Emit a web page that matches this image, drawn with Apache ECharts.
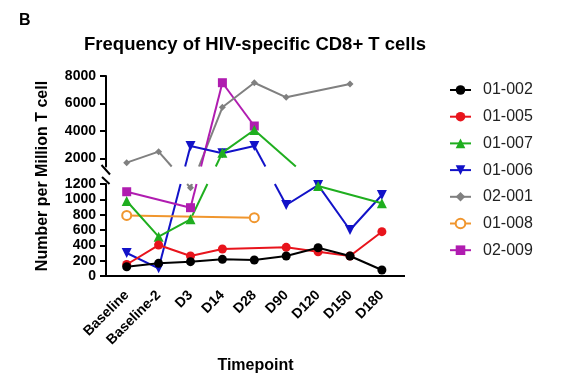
<!DOCTYPE html>
<html><head><meta charset="utf-8">
<script src="https://cdn.jsdelivr.net/npm/echarts@6/dist/echarts.min.js"></script>
<style>html,body{margin:0;padding:0;background:#fff}#c{width:562px;height:384px}</style>
</head><body><div id="c"></div>
<script>
// ---- data ----
const categories = ['Baseline','Baseline-2','D3','D14','D28','D90','D120','D150','D180'];
const s01_002 = [121,165,187,217,209,261,369,261,78];
const s01_005 = [150,404,261,352,null,374,317,261,578];
const s01_007 = [978,513,739,2408,4063,null,1173,null,948];
const s01_006 = [300,100,2897,2364,2897,926,1186,600,1056];
const s02_001 = [1679,2481,1150,5717,7510,6446,null,7415,null];
const s01_008 = [790,null,null,null,760,null,null,null,null];
const s02_009 = [1099,null,891,7510,4354,null,null,null,null];
const lowerTicks = [0,200,400,600,800,1000,1200];
const upperTicks = [2000,4000,6000,8000];
const lowerRange = [0,1200];
const upperRange = [1400,8000];

const FONT = 'Liberation Sans, Arial, sans-serif';
const defs = [
  {name:'01-002', data:s01_002, color:'#000000', symbol:'circle', size:9},
  {name:'01-005', data:s01_005, color:'#e8141c', symbol:'circle', size:9},
  {name:'01-007', data:s01_007, color:'#1fae1f', symbol:'triangle', size:10},
  {name:'01-006', data:s01_006, color:'#1212c8', symbol:'triangle', size:10, rotate:180},
  {name:'02-001', data:s02_001, color:'#808080', symbol:'diamond', size:7},
  {name:'01-008', data:s01_008, color:'#f0962e', symbol:'emptyCircle', size:9},
  {name:'02-009', data:s02_009, color:'#b01cb0', symbol:'rect', size:9}
];

function isLower(v){ return v <= lowerRange[1]; }
function segData(values, inLower){
  const out = [];
  values.forEach((v,i)=>{
    if (v == null) return;
    out.push([i, isLower(v) === inLower ? v : '-']);
  });
  return out;
}

const G = {left:110.75, width:287.1};
const series = [];
defs.forEach((d, idx)=>{
  [0,1].forEach(g=>{
    series.push({
      type:'line', name:d.name,
      xAxisIndex:g, yAxisIndex:g,
      data: segData(d.data, g===1),
      symbol:d.symbol, symbolSize:d.size, symbolRotate:d.rotate||0,
      z: 10 - idx,
      lineStyle:{color:d.color, width:2},
      itemStyle:{color:d.color, borderColor:d.color, borderWidth: d.symbol==='emptyCircle'?2:0},
      emphasis:{disabled:true},
      animation:false
    });
  });
});

const axisFont = {color:'#000', fontWeight:'bold', fontSize:14, fontFamily:FONT};
const plain = v => String(v);
const option = {
  animation:false,
  grid:[
    {left:G.left, width:G.width, top:76, height:90.5},
    {left:G.left, width:G.width, top:184, height:92}
  ],
  xAxis:[
    {gridIndex:0, type:'category', data:categories, show:false},
    {gridIndex:1, type:'category', data:categories,
     axisLine:{lineStyle:{color:'#000', width:2}},
     axisTick:{alignWithLabel:true, length:6, lineStyle:{color:'#000', width:2}},
     axisLabel:Object.assign({rotate:45, interval:0, margin:17}, axisFont)}
  ],
  yAxis:[
    {gridIndex:0, type:'value', min:upperRange[0], max:upperRange[1], offset:4.75,
     splitLine:{show:false},
     axisLine:{show:true, lineStyle:{color:'#000', width:2}},
     axisTick:{show:true, length:6, customValues:upperTicks, lineStyle:{color:'#000', width:2}},
     axisLabel:Object.assign({customValues:upperTicks, margin:10, formatter:plain}, axisFont)},
    {gridIndex:1, type:'value', min:lowerRange[0], max:lowerRange[1], interval:200, offset:4.75,
     splitLine:{show:false},
     axisLine:{show:true, lineStyle:{color:'#000', width:2}},
     axisTick:{show:true, length:6, customValues:lowerTicks, lineStyle:{color:'#000', width:2}},
     axisLabel:Object.assign({customValues:lowerTicks, margin:10, formatter:plain}, axisFont)}
  ],
  legend:{
    orient:'vertical', left:444, top:77, itemWidth:21, itemHeight:12, itemGap:10.7,
    data:defs.map(d=>d.name),
    textStyle:{fontSize:16, color:'#222', fontFamily:FONT, lineHeight:16, padding:[0,0,0,7]},
    selectedMode:false
  },
  series:series
};

const chart = echarts.init(document.getElementById('c'), null, {renderer:'canvas'});
chart.setOption(option);

// ---- bridges across the axis break, computed from the library's scales ----
function pix(i, v){
  return chart.convertToPixel({gridIndex: isLower(v) ? 1 : 0}, [i, v]);
}
const upperBottom = chart.convertToPixel({yAxisIndex:0}, upperRange[0]);
const lowerTop = chart.convertToPixel({yAxisIndex:1}, lowerRange[1]);
const graphics = [];
defs.forEach(d=>{
  const pts = [];
  d.data.forEach((v,i)=>{ if (v != null) pts.push([i,v]); });
  for (let k=0;k<pts.length-1;k++){
    const a = pts[k], b = pts[k+1];
    if (isLower(a[1]) === isLower(b[1])) continue;
    let lo = isLower(a[1]) ? pix(a[0],a[1]) : pix(b[0],b[1]);
    let hi = isLower(a[1]) ? pix(b[0],b[1]) : pix(a[0],a[1]);
    const xAt = y => lo[0] + (hi[0]-lo[0]) * (lo[1]-y) / (lo[1]-hi[1]);
    graphics.push({type:'line', z:1, silent:true,
      shape:{x1:lo[0], y1:lo[1], x2:xAt(lowerTop), y2:lowerTop},
      style:{stroke:d.color, lineWidth:2}});
    graphics.push({type:'line', z:1, silent:true,
      shape:{x1:xAt(upperBottom), y1:upperBottom, x2:hi[0], y2:hi[1]},
      style:{stroke:d.color, lineWidth:2}});
  }
});

const axX = G.left - 4.75;
const axY = chart.convertToPixel({yAxisIndex:1}, 0);
const gridRight = G.left + G.width;
graphics.push({type:'line', z:5, silent:true, shape:{x1:axX-1, y1:axY, x2:G.left+1, y2:axY}, style:{stroke:'#000', lineWidth:2}});
graphics.push({type:'line', z:5, silent:true, shape:{x1:gridRight-1, y1:axY, x2:405, y2:axY}, style:{stroke:'#000', lineWidth:2}});
// break marks
graphics.push({type:'line', z:5, silent:true, shape:{x1:axX-4.5, y1:upperBottom-1.5, x2:axX+4, y2:upperBottom+8}, style:{stroke:'#000', lineWidth:2}});
graphics.push({type:'line', z:5, silent:true, shape:{x1:axX-4, y1:lowerTop-7, x2:axX+3.5, y2:lowerTop}, style:{stroke:'#000', lineWidth:2}});
// texts
graphics.push({type:'text', x:19, y:21, style:{text:'B', font:'bold 16px '+FONT, fill:'#000', textAlign:'left', textVerticalAlign:'middle'}});
graphics.push({type:'text', x:255, y:44.5, style:{text:'Frequency of HIV-specific CD8+ T cells', font:'bold 18.5px '+FONT, fill:'#000', textAlign:'center', textVerticalAlign:'middle'}});
graphics.push({type:'text', x:43, y:176, rotation:Math.PI/2, style:{text:'Number per Million T cell', font:'bold 16px '+FONT, fill:'#000', textAlign:'center', textVerticalAlign:'middle'}});
graphics.push({type:'text', x:255.5, y:366, style:{text:'Timepoint', font:'bold 16px '+FONT, fill:'#000', textAlign:'center', textVerticalAlign:'middle'}});

chart.setOption({graphic:{elements:graphics}});
</script>
</body></html>
